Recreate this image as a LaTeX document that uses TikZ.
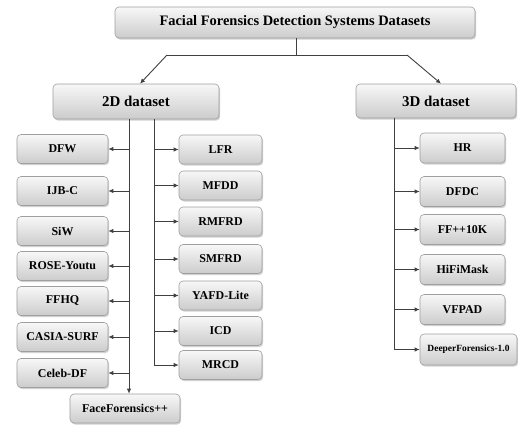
\documentclass[tikz,border=0pt]{standalone}
\usepackage{fontspec}
\setmainfont{Liberation Serif}
\usetikzlibrary{arrows.meta,shadows}

\begin{document}
\begin{tikzpicture}[x=1bp,y=-1bp,
	box/.style={draw=gray!75, line width=0.6bp, rounded corners=4bp, top color=gray!6, bottom color=gray!40,
		drop shadow={shadow xshift=1.2bp, shadow yshift=-1.6bp, fill=gray!60, opacity=0.6},
		font=\bfseries\fontsize{12}{14}\selectfont, inner sep=0pt, minimum height=29bp},
	link/.style={draw=black!75, line width=0.9bp},
	tip/.style={link, -{Latex[length=5bp,width=4.5bp]}}
]
		\useasboundingbox (0,0) rectangle (518,428);

		\node[box, minimum width=360bp, minimum height=31bp, font=\bfseries\fontsize{14.5}{16}\selectfont] (fds) at (295,22.5) {Facial Forensics Detection Systems Datasets};
		\node[box, minimum width=166bp, minimum height=35bp, font=\bfseries\fontsize{15}{17}\selectfont] (d2) at (136,101.5) {2D dataset};
		\node[box, minimum width=160bp, minimum height=34bp, font=\bfseries\fontsize{15}{17}\selectfont] (d3) at (436,101) {3D dataset};

		\coordinate (split) at (296,55);
		\coordinate (lsplit) at (167,55);
		\coordinate (rsplit) at (407,55);
		\draw[link] (fds.south -| split) -- (split);
		\draw[link] (lsplit) -- (rsplit);
		\draw[tip] (lsplit) -- ([xshift=4bp]d2.north);
		\draw[tip] (rsplit) -- ([xshift=5bp]d3.north);

		\coordinate (ltrunk) at (129,119);
		\coordinate (rtrunk) at (154,119);
		\coordinate (trunk3) at (394,118);

		\foreach \name/\lbl/\y in {dfw/DFW/149, ijbc/IJB-C/191, siw/SiW/231, rose/ROSE-Youtu/266, ffhq/FFHQ/301, casia/CASIA-SURF/337, celeb/Celeb-DF/373} {
		    \node[box, minimum width=91bp] (\name) at (62.5,\y) {\lbl};
		    \draw[tip] (\name.east -| ltrunk) -- (\name.east);
		}
		\node[box, minimum width=110bp] (ffpp) at (125,408.5) {FaceForensics++};
		\draw[tip] (d2.south -| ltrunk) -- (ffpp.north -| ltrunk);

		\foreach \name/\lbl/\y in {lfr/LFR/149.5, mfdd/MFDD/185.5, rmfrd/RMFRD/221.5, smfrd/SMFRD/259, yafd/YAFD-Lite/295.5, icd/ICD/331, mrcd/MRCD/365} {
		    \node[box, minimum width=83bp] (\name) at (220.5,\y) {\lbl};
		    \draw[tip] (\name.west -| rtrunk) -- (\name.west);
		}
		\draw[link] (d2.south -| rtrunk) -- (mrcd.west -| rtrunk);

		\foreach \name/\lbl/\y in {hr/HR/148, dfdc/DFDC/191.5, ffk/FF++10K/229.5, hifi/HiFiMask/269.5, vfpad/VFPAD/309.5} {
		    \node[box, minimum width=85bp, minimum height=30bp] (\name) at (462.5,\y) {\lbl};
		    \draw[tip] (\name.west -| trunk3) -- (\name.west);
		}
		\node[box, minimum width=97bp, minimum height=31bp, font=\bfseries\fontsize{9.5}{11}\selectfont] (deeper) at (468.5,349.5) {DeeperForensics-1.0};
		\draw[tip] (deeper.west -| trunk3) -- (deeper.west);
		\draw[link] (d3.south -| trunk3) -- (deeper.west -| trunk3);
	\end{tikzpicture}
\end{document}
